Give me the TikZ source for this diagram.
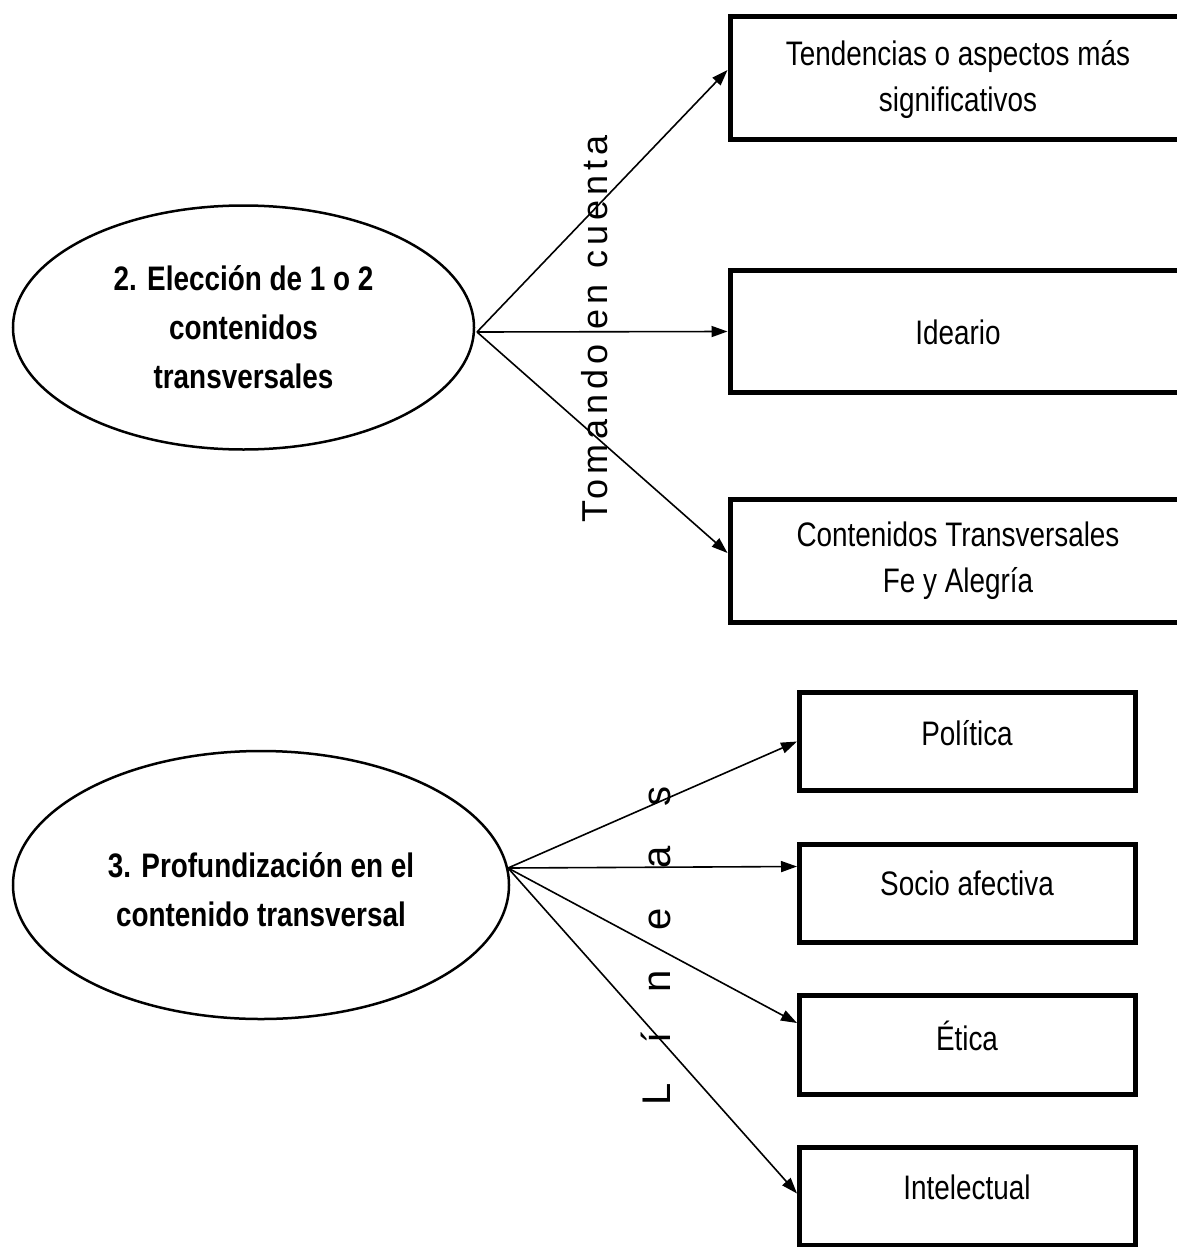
\documentclass[tikz,border=0pt]{standalone}
\usepackage{fontspec}
\setmainfont{Liberation Sans}
\newfontfamily\narrowfont[FakeStretch=0.82]{Liberation Sans}
\newfontfamily\spacedfont[LetterSpace=14]{Liberation Sans}
\newfontfamily\widefont[LetterSpace=72]{Liberation Sans}
\usetikzlibrary{shapes.geometric,arrows.meta,calc}
\begin{document}
\begin{tikzpicture}[x=1pt,y=-1pt,
  ovalnode/.style={ellipse,draw,line width=2.5pt,inner sep=0pt},
  boxnode/.style={rectangle,draw,line width=5pt,inner sep=0pt},
  boxtext/.style={align=center,font=\narrowfont\fontsize{34}{46}\selectfont},
  ovaltext/.style={align=center,font=\narrowfont\bfseries\fontsize{34}{49}\selectfont},
  sidelabel/.style={rotate=90,font=\spacedfont\fontsize{36}{40}\selectfont},
  widelabel/.style={rotate=90,font=\widefont\fontsize{40}{44}\selectfont},
  conn/.style={line width=1.6pt,-{Triangle[length=16pt,width=11pt]}}]
\useasboundingbox (0,0) rectangle (1177,1247);
\clip (0,0) rectangle (1177,1247);
\fill[white] (0,0) rectangle (1177,1247);

% upper group
\node[ovalnode,minimum width=461pt,minimum height=244pt] (ell1) at (243.5,327.5) {};
\node[ovaltext] (ell1t) at (243.5,327) {2. Elección de 1 o 2\\contenidos\\transversales};
\coordinate (o1) at (477,332);

\node[boxnode,minimum width=460pt,minimum height=123pt] (b1) at (960,78) {};
\node[boxtext] (b1t) at (958,80) {Tendencias o aspectos más\\significativos};
\node[boxnode,minimum width=460pt,minimum height=122pt] (b2) at (960,331.5) {};
\node[boxtext] (b2t) at (958,332) {Ideario};
\node[boxnode,minimum width=460pt,minimum height=123pt] (b3) at (960,561) {};
\node[boxtext] (b3t) at (958,561) {Contenidos Transversales\\Fe y Alegría};

\draw[conn] (o1) -- ([yshift=8pt]b1.west);
\draw[conn] (o1) -- (b2.west);
\draw[conn] (o1) -- ([yshift=8pt]b3.west);

\node[sidelabel] (lab1) at (595,329) {Tomando en cuenta};

% lower group
\node[ovalnode,minimum width=496pt,minimum height=268pt] (ell2) at (261,885) {};
\node[ovaltext] (ell2t) at (261,890) {3. Profundización en el\\contenido transversal};
\coordinate (o2) at (508,868);

\node[boxnode,minimum width=336pt,minimum height=98pt] (c1) at (967.5,741.5) {};
\node[boxtext] (c1t) at (967,733) {Política};
\node[boxnode,minimum width=336pt,minimum height=98pt] (c2) at (967.5,893.5) {};
\node[boxtext] (c2t) at (967,883) {Socio afectiva};
\node[boxnode,minimum width=336pt,minimum height=99pt] (c3) at (967.5,1045) {};
\node[boxtext] (c3t) at (967,1036) {Ética};
\node[boxnode,minimum width=336pt,minimum height=98pt] (c4) at (967.5,1196.5) {};
\node[boxtext] (c4t) at (967,1187) {Intelectual};

\draw[conn] (o2) -- (c1.west);
\draw[conn] (o2) -- ([yshift=27pt]c2.west);
\draw[conn] (o2) -- ([yshift=22pt]c3.west);
\draw[conn] (o2) -- ([yshift=3pt]c4.west);

\node[widelabel] (lab2) at (656,946) {L í n e a s};
\end{tikzpicture}
\end{document}
